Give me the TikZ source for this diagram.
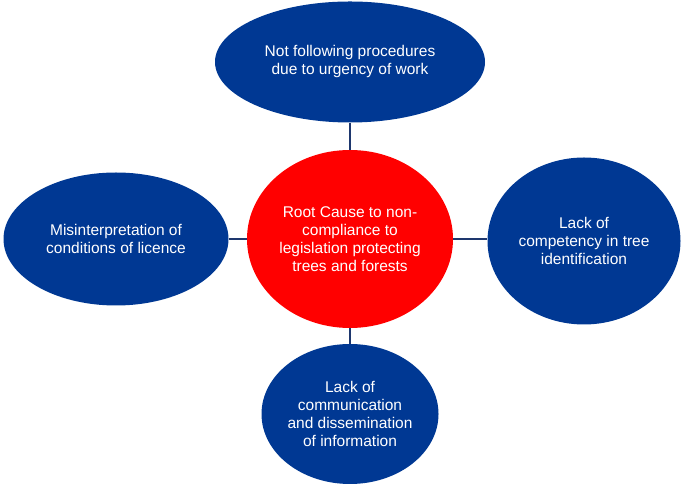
\documentclass[tikz,border=0pt]{standalone}
\usepackage{fontspec}
\setmainfont{Liberation Sans}
\usetikzlibrary{shapes.geometric}
\definecolor{causeblue}{RGB}{0,56,147}
\definecolor{rootred}{RGB}{255,0,0}
\definecolor{linkblue}{RGB}{30,55,110}
\tikzset{
  bubble/.style={ellipse, fill=causeblue, inner sep=0pt, text=white, align=center,
    font=\fontsize{15.5}{18}\selectfont},
  rootbubble/.style={bubble, fill=rootred},
  link/.style={draw=linkblue, line width=1.4pt}
}
\begin{document}
\begin{tikzpicture}[x=1pt,y=1pt]
\useasboundingbox (0,0) rectangle (684,486);
\node[rootbubble, minimum width=206pt, minimum height=178pt] (root) at (350,247)
  {Root Cause to non-\\compliance to\\legislation protecting\\trees and forests};
\node[bubble, minimum width=270pt, minimum height=121pt] (top) at (350,424)
  {Not following procedures\\due to urgency of work};
\node[bubble, minimum width=225pt, minimum height=133pt] (left) at (116,247)
  {Misinterpretation of\\conditions of licence};
\node[bubble, minimum width=193pt, minimum height=167pt] (right) at (584,245)
  {Lack of\\competency in tree\\identification};
\node[bubble, minimum width=177pt, minimum height=140pt] (bottom) at (350,72)
  {Lack of\\communication\\and dissemination\\of information};
\draw[link] (top.south) -- (root.north);
\draw[link] (left.east) -- (root.west);
\draw[link] (root.east) -- (root.east -| right.west);
\draw[link] (root.south) -- (bottom.north);
\end{tikzpicture}
\end{document}
